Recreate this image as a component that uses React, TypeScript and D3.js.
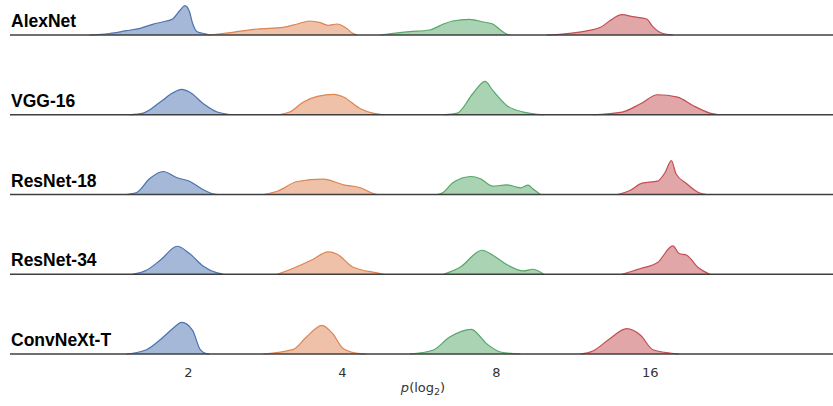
import React, { useEffect, useRef } from 'react';
import * as d3 from 'd3';

// models (one ridge row each)
const models = ['AlexNet', 'VGG-16', 'ResNet-18', 'ResNet-34', 'ConvNeXt-T'];
const seriesColors = ['#4C72B0', '#DD8452', '#55A868', '#C44E52'];
const tickValues = [1, 2, 3, 4];
const tickLabels = ['2', '4', '8', '16'];

// density curves: [log2 value, density]
const alexnet = [
  [[0.36, 0], [0.49, 0.15], [0.6, 0.43], [0.69, 0.67], [0.77, 1.07], [0.86, 1.4], [0.9, 1.6], [0.95, 2.5], [0.98, 2.93], [1.01, 2.33], [1.03, 1.17], [1.06, 0.33], [1.12, 0.1], [1.14, 0]],
  [[1.14, 0], [1.29, 0.27], [1.45, 0.6], [1.62, 0.77], [1.71, 1.1], [1.79, 1.4], [1.86, 1.23], [1.91, 0.97], [1.97, 1.1], [2.03, 0.67], [2.07, 0.17], [2.1, 0]],
  [[2.25, 0], [2.44, 0.33], [2.57, 0.5], [2.66, 1.1], [2.72, 1.4], [2.83, 1.57], [2.92, 1.3], [2.98, 1.1], [3.03, 0.5], [3.07, 0.1], [3.09, 0]],
  [[3.33, 0], [3.53, 0.27], [3.68, 0.77], [3.74, 1.43], [3.82, 2.03], [3.89, 1.83], [3.98, 1.6], [4.02, 0.83], [4.08, 0.17], [4.15, 0]],
];
const vgg16 = [
  [[0.62, 0], [0.71, 0.17], [0.82, 1.27], [0.9, 2.17], [0.96, 2.53], [1.01, 2.27], [1.1, 1.1], [1.19, 0.27], [1.29, 0]],
  [[1.58, 0], [1.66, 0.27], [1.75, 1.27], [1.84, 1.83], [1.95, 2.03], [2.01, 1.77], [2.12, 0.6], [2.2, 0.17], [2.27, 0]],
  [[2.66, 0], [2.75, 0.17], [2.85, 2.1], [2.93, 3.33], [2.98, 2.43], [3.07, 0.93], [3.18, 0.27], [3.31, 0]],
  [[3.63, 0], [3.82, 0.27], [3.94, 1.1], [4.05, 2.0], [4.18, 1.77], [4.28, 0.93], [4.39, 0.17], [4.45, 0]],
];
const resnet18 = [
  [[0.6, 0], [0.67, 0.23], [0.75, 1.57], [0.84, 2.3], [0.93, 1.67], [1.01, 1.33], [1.1, 0.47], [1.16, 0.07], [1.19, 0]],
  [[1.49, 0], [1.58, 0.33], [1.71, 1.3], [1.88, 1.53], [2.01, 0.97], [2.12, 0.67], [2.2, 0.13], [2.23, 0]],
  [[2.62, 0], [2.66, 0.23], [2.72, 1.17], [2.84, 1.8], [2.9, 1.57], [2.98, 0.83], [3.07, 0.97], [3.16, 0.67], [3.21, 0.93], [3.24, 0.57], [3.29, 0]],
  [[3.79, 0], [3.87, 0.4], [3.95, 1.13], [4.05, 1.33], [4.1, 2.23], [4.14, 3.4], [4.17, 2.07], [4.24, 1.07], [4.32, 0.17], [4.37, 0]],
];
const resnet34 = [
  [[0.64, 0], [0.73, 0.4], [0.82, 1.4], [0.93, 2.8], [1.01, 2.07], [1.1, 0.8], [1.19, 0.13], [1.23, 0]],
  [[1.58, 0], [1.68, 0.57], [1.81, 1.47], [1.91, 2.23], [1.97, 2.0], [2.07, 0.73], [2.23, 0.13], [2.27, 0]],
  [[2.66, 0], [2.77, 0.73], [2.91, 2.4], [2.98, 1.9], [3.07, 0.97], [3.18, 0.33], [3.24, 0.5], [3.31, 0]],
  [[3.82, 0], [3.94, 0.57], [4.05, 1.17], [4.15, 2.83], [4.19, 2.07], [4.24, 1.9], [4.31, 0.73], [4.39, 0]],
];
const convnext = [
  [[0.6, 0], [0.73, 0.43], [0.84, 1.7], [0.9, 2.53], [0.96, 3.17], [1.03, 2.37], [1.08, 0.43], [1.12, 0.03], [1.14, 0]],
  [[1.49, 0], [1.68, 0.43], [1.77, 1.7], [1.87, 2.87], [1.94, 2.03], [2.01, 0.53], [2.12, 0.03], [2.16, 0]],
  [[2.44, 0], [2.59, 0.37], [2.7, 1.7], [2.84, 2.47], [2.94, 1.03], [3.03, 0.2], [3.16, 0]],
  [[3.55, 0], [3.63, 0.3], [3.74, 1.53], [3.85, 2.53], [3.94, 1.87], [4.02, 0.43], [4.13, 0.1], [4.19, 0]],
];
const densities = [alexnet, vgg16, resnet18, resnet34, convnext];

function App() {
  const svgRef = useRef(null);
  const width = 833;
  const height = 406;

  useEffect(() => {
    const svg = d3.select(svgRef.current);
    svg.selectAll('*').remove();

    const x = d3.scaleLinear().domain([-0.156, 5.19]).range([10, 833]);
    const row = d3.scalePoint().domain(models).range([35, 354]);
    const dens = d3.scaleLinear().domain([0, 4]).range([0, 40]);

    models.forEach((m, i) => {
      const base = row(m);
      const g = svg.append('g');

      const area = d3.area()
        .x(d => x(d[0]))
        .y0(base)
        .y1(d => base - dens(d[1]))
        .curve(d3.curveMonotoneX);
      const line = d3.line()
        .x(d => x(d[0]))
        .y(d => base - dens(d[1]))
        .curve(d3.curveMonotoneX);

      densities[i].forEach((pts, j) => {
        g.append('path')
          .attr('d', area(pts))
          .attr('fill', seriesColors[j])
          .attr('fill-opacity', 0.5);
        g.append('path')
          .attr('d', line(pts))
          .attr('fill', 'none')
          .attr('stroke', seriesColors[j])
          .attr('stroke-width', 1.2);
      });

      g.append('line')
        .attr('x1', 10).attr('x2', 833)
        .attr('y1', base).attr('y2', base)
        .attr('stroke', '#3f3f3f')
        .attr('stroke-width', 1.5);

      g.append('text')
        .attr('x', 11)
        .attr('y', base - 8)
        .attr('font-family', '"Liberation Sans", Arial, sans-serif')
        .attr('font-weight', 'bold')
        .attr('font-size', '17.5px')
        .attr('fill', '#000')
        .text(m);
    });

    // x 轴
    const axis = svg.append('g')
      .attr('transform', `translate(0,${row(models[models.length - 1])})`)
      .call(d3.axisBottom(x)
        .tickValues(tickValues)
        .tickFormat((d, k) => tickLabels[k])
        .tickSize(0)
        .tickPadding(13.5));
    axis.select('.domain').remove();
    axis.selectAll('text')
      .attr('font-family', '"DejaVu Sans", sans-serif')
      .attr('font-size', '13px')
      .attr('fill', '#333');

    const label = svg.append('text')
      .attr('x', 423)
      .attr('y', 392)
      .attr('text-anchor', 'middle')
      .attr('font-family', '"DejaVu Sans", sans-serif')
      .attr('font-size', '13px')
      .attr('fill', '#333');
    label.append('tspan').attr('font-style', 'italic').text('p');
    label.append('tspan').text('(log');
    label.append('tspan').attr('font-size', '9.5px').attr('dy', 3).text('2');
    label.append('tspan').attr('dy', -3).text(')');
  }, []);

  return (
    <svg
      ref={svgRef}
      width={width}
      height={height}
      style={{ position: 'absolute', left: 0, top: 0, background: '#fff' }}
    ></svg>
  );
}

export default App;
